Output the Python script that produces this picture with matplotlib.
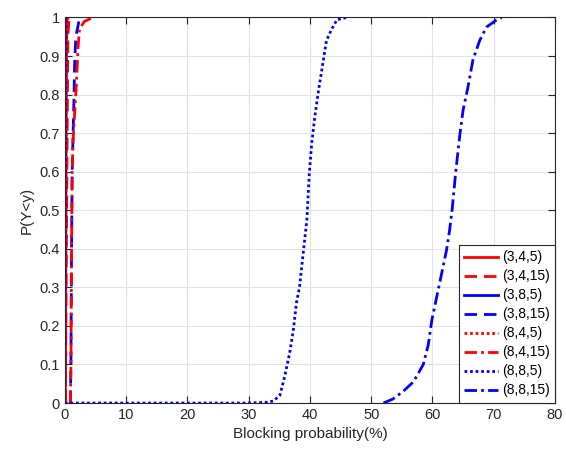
import matplotlib
matplotlib.use("Agg")
import matplotlib.pyplot as plt
import numpy as np

plt.rcParams['font.family'] = ['Liberation Sans', 'DejaVu Sans']

# CDF curves of blocking probability for each (a,b,c) setting
labels = ["(3,4,5)", "(3,4,15)", "(3,8,5)", "(3,8,15)",
          "(8,4,5)", "(8,4,15)", "(8,8,5)", "(8,8,15)"]

x_345 = [0.05, 0.15, 0.25, 0.35]
y_345 = [0.0, 0.4, 0.9, 1.0]

x_3415 = [0.1, 0.3, 0.5, 0.7]
y_3415 = [0.0, 0.5, 0.95, 1.0]

x_385 = [0.0, 0.1, 0.2]
y_385 = [0.0, 0.5, 1.0]

x_3815 = [0.9, 1.0, 1.1, 1.2, 1.35, 1.5, 1.6, 1.8, 2.3, 3.1]
y_3815 = [0.0, 0.1, 0.4, 0.6, 0.7, 0.79, 0.88, 0.95, 0.99, 1.0]

x_845 = [0.1, 0.2, 0.3, 0.5]
y_845 = [0.0, 0.5, 0.95, 1.0]

x_8415 = [0.9, 1.0, 1.1, 1.2, 1.35, 1.6, 1.9, 2.15, 2.4, 3.2, 4.6]
y_8415 = [0.0, 0.1, 0.4, 0.6, 0.68, 0.75, 0.83, 0.92, 0.97, 0.99, 1.0]

x_885 = [0, 10, 20, 30, 33, 34, 35.1, 35.9, 36.7, 37.3, 37.8, 38.3, 38.9,
         39.5, 39.9, 40.3, 40.8, 41.4, 42.2, 42.7, 43.5, 44.4, 46]
y_885 = [0, 0, 0, 0, 0.002, 0.005, 0.02, 0.07, 0.13, 0.19, 0.26, 0.30, 0.388,
         0.475, 0.596, 0.674, 0.743, 0.81, 0.89, 0.94, 0.968, 0.994, 1.0]

x_8815 = [52.0, 53.5, 55.2, 56.9, 58.5, 59.3, 59.9, 60.7, 61.5, 62.3, 62.8,
          63.2, 63.8, 64.5, 65.0, 65.8, 66.6, 67.7, 68.8, 70.4, 71.3]
y_8815 = [0.0, 0.01, 0.03, 0.055, 0.10, 0.15, 0.215, 0.276, 0.336, 0.397, 0.449,
          0.5, 0.6, 0.70, 0.76, 0.82, 0.89, 0.94, 0.975, 0.993, 1.0]

xs = [x_345, x_3415, x_385, x_3815, x_845, x_8415, x_885, x_8815]
ys = [y_345, y_3415, y_385, y_3815, y_845, y_8415, y_885, y_8815]
colors = ["#ff0000", "#ff0000", "#0000ff", "#0000ff",
          "#ff0000", "#ff0000", "#0000ff", "#0000ff"]
styles = ["-", (0, (4.5, 2.5)), "-", (0, (4.5, 2.5)),
          (0, (1, 1)), (0, (4.5, 1.5, 1, 1.5)), (0, (1, 1)), (0, (4.5, 1.5, 1, 1.5))]

fig = plt.figure(figsize=(5.66, 4.51), dpi=100)
ax = fig.add_axes([0.1145, 0.1064, 0.8661, 0.8548])

for x, y, c, ls, lab in zip(xs, ys, colors, styles, labels):
    ax.plot(x, y, color=c, linestyle=ls, linewidth=2.0, label=lab)

ax.set_xlim(0, 80)
ax.set_ylim(0, 1)
ax.set_xticks(np.arange(0, 81, 10))
ax.set_yticks(np.arange(0, 1.01, 0.1))
ax.set_yticklabels(["0", "0.1", "0.2", "0.3", "0.4", "0.5", "0.6", "0.7", "0.8", "0.9", "1"])
ax.grid(True, color="#e3e3e3", linewidth=0.8)
ax.set_axisbelow(True)
ax.tick_params(direction="in", top=True, right=True, length=5, labelsize=10.5,
               colors="#262626", width=0.8)
for sp in ax.spines.values():
    sp.set_color("#262626")
    sp.set_linewidth(0.8)

ax.set_xlabel("Blocking probability(%)", fontsize=11, color="#262626")
ax.set_ylabel("P(Y<y)", fontsize=11, color="#262626")

leg = ax.legend(loc="lower right", fontsize=10, handlelength=2.4, labelspacing=0.36,
                borderaxespad=0.0, borderpad=0.4, handletextpad=0.3,
                fancybox=False, framealpha=1)
leg.get_frame().set_edgecolor("#262626")
leg.get_frame().set_linewidth(0.8)

fig.savefig("out.png", dpi=100)
